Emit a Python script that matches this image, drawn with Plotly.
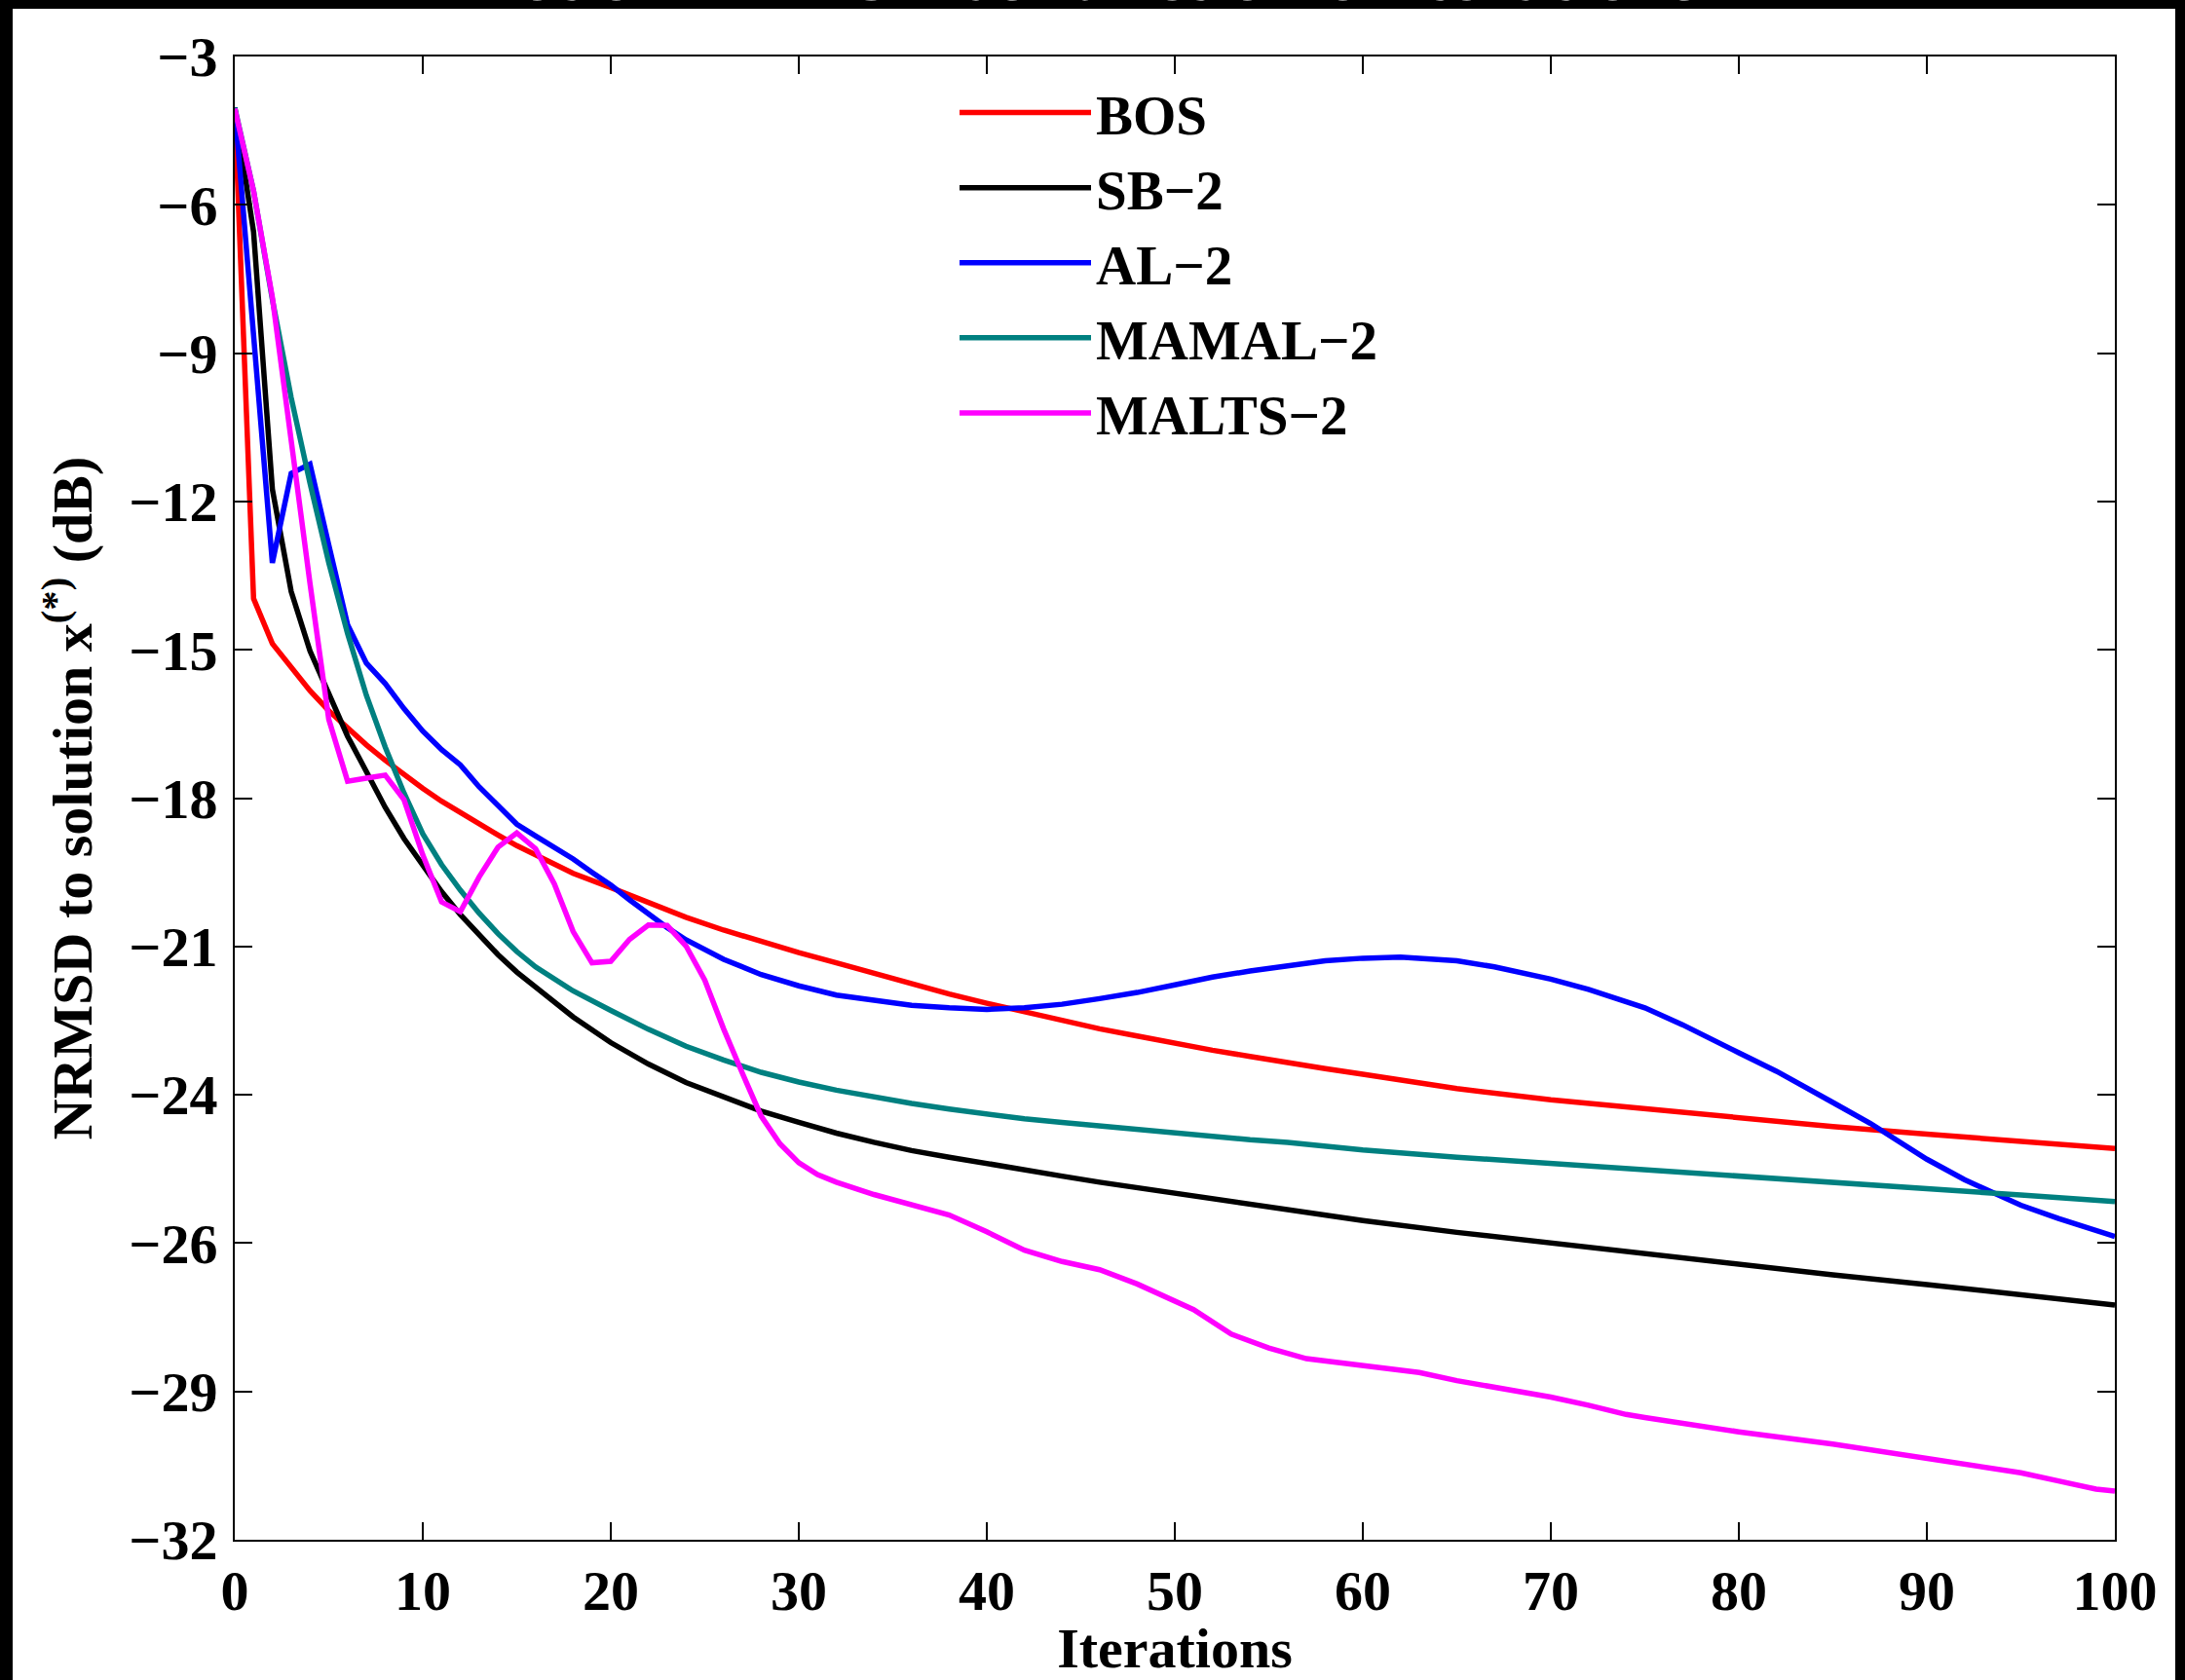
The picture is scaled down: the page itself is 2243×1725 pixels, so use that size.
import plotly.graph_objects as go

# ---------------- data ----------------
bos_x = list(range(0, 19)) + list(range(20, 61, 2)) + list(range(65, 101, 5))
bos_y = [-4.0, -13.60, -14.48, -14.96, -15.40, -15.79, -16.14, -16.46, -16.76, -17.04,
         -17.31, -17.56, -17.79, -18.01, -18.22, -18.43, -18.61, -18.80, -18.97,
         -19.25, -19.55, -19.83, -20.08, -20.31, -20.52, -20.72, -20.93, -21.13, -21.33,
         -21.51, -21.68, -21.85, -22.01, -22.15, -22.30, -22.43, -22.55, -22.68, -22.79,
         -22.90,
         -23.18, -23.40, -23.58, -23.76, -23.92, -24.07, -24.21, -24.35]

sb_x = list(range(0, 19)) + list(range(20, 61, 2)) + list(range(65, 101, 5))
sb_y = [-4.0, -6.43, -11.46, -13.46, -14.62, -15.48, -16.29, -16.98, -17.68, -18.29,
        -18.83, -19.33, -19.78, -20.18, -20.56, -20.90, -21.20, -21.50, -21.78,
        -22.28, -22.70, -23.06, -23.35, -23.62, -23.84, -24.05, -24.23, -24.39, -24.52,
        -24.65, -24.77, -24.89, -25.01, -25.12, -25.22, -25.33, -25.44, -25.55, -25.66,
        -25.76,
        -25.99, -26.20, -26.42, -26.63, -26.82, -27.01, -27.21, -27.41]

al_x = list(range(0, 27)) + list(range(28, 63, 2)) + [65, 67, 70, 72, 75, 77, 80, 82, 85, 87, 90, 92, 95, 97, 100]
al_y = [-4.0, -8.45, -12.90, -11.15, -10.97, -12.55, -14.11, -14.86, -15.26, -15.75,
        -16.19, -16.55, -16.85, -17.28, -17.66, -18.01, -18.24, -18.46, -18.69, -18.95,
        -19.20, -19.49, -19.77, -20.03, -20.27, -20.47, -20.65,
        -20.95, -21.17, -21.35, -21.46, -21.55, -21.60, -21.63, -21.60, -21.53, -21.42,
        -21.30, -21.15, -21.00, -20.88, -20.77, -20.68, -20.63, -20.61,
        -20.68, -20.80, -21.04, -21.24, -21.60, -21.93, -22.48, -22.84, -23.45, -23.86,
        -24.56, -24.96, -25.46, -25.72, -26.07]

mamal_x = list(range(0, 19)) + list(range(20, 61, 2)) + list(range(65, 101, 5))
mamal_y = [-4.0, -5.63, -7.75, -9.67, -11.34, -12.90, -14.28, -15.49, -16.50, -17.40,
           -18.20, -18.80, -19.30, -19.75, -20.15, -20.50, -20.80, -21.05, -21.27,
           -21.65, -22.02, -22.35, -22.62, -22.86, -23.05, -23.21, -23.35, -23.47, -23.58,
           -23.68, -23.77, -23.84, -23.91, -23.99, -24.05, -24.11, -24.18, -24.23, -24.30,
           -24.38,
           -24.52, -24.64, -24.76, -24.88, -25.00, -25.12, -25.26, -25.39]

malts_x = list(range(0, 33)) + [34, 36, 38, 40, 42, 44, 46, 48, 50, 51, 53, 55, 57, 60,
                                63, 65, 70, 72, 74, 75, 80, 85, 90, 95, 97, 99, 100]
malts_y = [-4.02, -5.63, -7.71, -10.55, -13.30, -15.96, -17.17, -17.11, -17.05, -17.53,
           -18.61, -19.53, -19.72, -19.04, -18.46, -18.18, -18.49, -19.18, -20.11, -20.72,
           -20.69, -20.26, -19.98, -19.99, -20.39, -21.06, -22.01, -22.88, -23.72, -24.26,
           -24.63, -24.86, -25.01,
           -25.25, -25.45, -25.65, -25.98, -26.34, -26.56, -26.72, -27.00, -27.33, -27.50,
           -27.98, -28.25, -28.46, -28.60,
           -28.73, -28.89, -29.21, -29.37, -29.55, -29.61, -29.89, -30.13, -30.40, -30.69,
           -30.85, -31.01, -31.05]

series_names = ["BOS", "SB\u22122", "AL\u22122", "MAMAL\u22122", "MALTS\u22122"]
series_colors = ["#FF0000", "#000000", "#0000FF", "#008080", "#FF00FF"]

x_tickvals = list(range(0, 101, 10))
y_tickvals = [-3 - 2.9 * k for k in range(11)]
y_ticktext = ["\u22123", "\u22126", "\u22129", "\u221212", "\u221215", "\u221218",
              "\u221221", "\u221224", "\u221226", "\u221229", "\u221232"]

# ---------------- figure ----------------
W, H = 2243, 1725
L, R, T, B = 241, 72, 58, 144
pw, ph = W - L - R, H - T - B

def px_x(p):
    return (p - L) / pw

def px_y(p):
    return (H - B - p) / ph

FONT = "Liberation Serif"

fig = go.Figure()
data = [(bos_x, bos_y), (sb_x, sb_y), (al_x, al_y), (mamal_x, mamal_y), (malts_x, malts_y)]
for (xs, ys), name, col in zip(data, series_names, series_colors):
    fig.add_trace(go.Scatter(x=xs, y=ys, mode="lines", name=name,
                             line=dict(color=col, width=5.5)))

axis_common = dict(
    showline=True, linecolor="black", linewidth=2, mirror="ticks",
    ticks="inside", ticklen=18, tickwidth=2, tickcolor="black",
    showgrid=False, zeroline=False,
    tickfont=dict(family=FONT, size=58, color="black", weight="bold"),
)

fig.update_xaxes(range=[0, 100], tickvals=x_tickvals, ticklabelstandoff=0,
                 title=dict(text="Iterations", standoff=18,
                            font=dict(family=FONT, size=58, color="black", weight="bold")),
                 **axis_common)
fig.update_yaxes(range=[-32, -3], tickvals=y_tickvals, ticktext=y_ticktext,
                 ticklabelstandoff=4,
                 title=dict(text="NRMSD to solution x<sup>(*)</sup> (dB)", standoff=19,
                            font=dict(family=FONT, size=58, color="black", weight="bold")),
                 **axis_common)

shapes = [
    dict(type="rect", xref="paper", yref="paper", x0=px_x(-50), x1=px_x(13),
         y0=px_y(H + 50), y1=px_y(-50), fillcolor="black", line=dict(width=0), layer="above"),
    dict(type="rect", xref="paper", yref="paper", x0=px_x(2233), x1=px_x(W + 50),
         y0=px_y(H + 50), y1=px_y(-50), fillcolor="black", line=dict(width=0), layer="above"),
    dict(type="rect", xref="paper", yref="paper", x0=px_x(-50), x1=px_x(W + 50),
         y0=px_y(9), y1=px_y(-50), fillcolor="black", line=dict(width=0), layer="above"),
]

fig.update_layout(
    width=W, height=H, autosize=False,
    margin=dict(l=L, r=R, t=T, b=B, autoexpand=False),
    paper_bgcolor="white", plot_bgcolor="white",
    font=dict(family=FONT, size=58, color="black", weight="bold"),
    showlegend=True,
    legend=dict(x=px_x(980), y=px_y(72), xanchor="left", yanchor="top",
                bgcolor="rgba(0,0,0,0)", borderwidth=0, itemwidth=135,
                font=dict(family=FONT, size=57, color="black", weight="bold"),
                tracegroupgap=0),
    shapes=shapes,
    annotations=[dict(text="Plot of NRMSD as function of iterations",
                      xref="paper", yref="paper", x=px_x(1105), y=px_y(18),
                      xanchor="center", yanchor="bottom", showarrow=False,
                      font=dict(family=FONT, size=75, color="white", weight="bold"))],
)

fig.write_html("out.html", config={"displayModeBar": False},
               post_script="document.body.style.margin='0px';document.body.style.overflow='hidden';")
